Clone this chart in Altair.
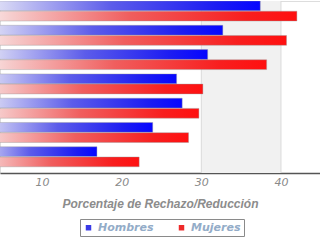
import altair as alt
import pandas as pd

categories = ["Grupo 1", "Grupo 2", "Grupo 3", "Grupo 4", "Grupo 5", "Grupo 6", "Grupo 7"]
hombres = [37.4, 32.7, 30.8, 26.9, 27.6, 23.9, 16.9]
mujeres = [42.0, 40.7, 38.2, 30.2, 29.7, 28.4, 22.2]
series = ["Hombres", "Mujeres"]
tick_values = [10, 20, 30, 40]
grid_values = [30, 40]

rows = []
for c, h, m in zip(categories, hombres, mujeres):
    rows.append({"cat": c, "serie": "Hombres", "valor": h})
    rows.append({"cat": c, "serie": "Mujeres", "valor": m})
df = pd.DataFrame(rows)

W, H = 320, 172

xscale = alt.Scale(domain=[4.73, 44.9], nice=False, zero=False)
yscale = alt.Scale(domain=categories, paddingInner=0.177, paddingOuter=0.128, align=0)
yoff = alt.YOffset("serie:N", scale=alt.Scale(domain=series, paddingInner=0.04))

xaxis = alt.Axis(
    values=tick_values, ticks=False, grid=False,
    domainColor="#555555", domainWidth=1.6,
    labelFont="DejaVu Sans", labelFontStyle="italic", labelFontSize=11,
    labelColor="#8a8a8a", labelPadding=3,
    title="Porcentaje de Rechazo/Reducción", titleFont="Liberation Sans",
    titleFontStyle="italic", titleFontWeight="bold", titleFontSize=12,
    titleColor="#8c8c8c", titlePadding=11,
)

base = alt.Chart(df)

band = alt.Chart(pd.DataFrame({"a": [1]})).mark_rect(color="#f1f1f1").encode(
    x=alt.datum(30, scale=xscale, axis=xaxis),
    x2=alt.datum(40),
    y=alt.value(0),
    y2=alt.value(H),
)

grid = alt.Chart(pd.DataFrame({"g": grid_values})).mark_rule(color="#dadada", strokeWidth=1).encode(
    x=alt.X("g:Q", scale=xscale, axis=xaxis),
)

blue_grad = alt.Gradient(
    gradient="linear", x1=0, x2=1, y1=0, y2=0,
    stops=[
        alt.GradientStop(offset=0, color="#ffffff"),
        alt.GradientStop(offset=0.15, color="#d2d2f4"),
        alt.GradientStop(offset=0.5, color="#5c5cea"),
        alt.GradientStop(offset=0.85, color="#1c1cf2"),
        alt.GradientStop(offset=1, color="#0606ff"),
    ],
)
red_grad = alt.Gradient(
    gradient="linear", x1=0, x2=1, y1=0, y2=0,
    stops=[
        alt.GradientStop(offset=0, color="#ffffff"),
        alt.GradientStop(offset=0.15, color="#f6cccc"),
        alt.GradientStop(offset=0.5, color="#f05e5e"),
        alt.GradientStop(offset=0.85, color="#f81e1e"),
        alt.GradientStop(offset=1, color="#ff1010"),
    ],
)

def bars(name, grad):
    return base.transform_filter(alt.datum.serie == name).mark_bar(
        fill=grad, clip=True, stroke="#9a9a9a", strokeWidth=0.4
    ).encode(
        x=alt.X("valor:Q", scale=xscale, axis=xaxis),
        x2=alt.datum(0),
        y=alt.Y("cat:N", scale=yscale, axis=None),
        yOffset=yoff,
    )

legend_layer = base.mark_square(clip=True, size=30, opacity=1).encode(
    x=alt.datum(0, scale=xscale),
    y=alt.Y("cat:N", scale=yscale, axis=None),
    color=alt.Color(
        "serie:N",
        scale=alt.Scale(domain=series, range=["#3a3ae6", "#ee2a2a"]),
        legend=alt.Legend(
            title=None, orient="none", legendX=80, legendY=218,
            direction="horizontal", symbolType="square", symbolSize=30,
            labelFont="DejaVu Sans", labelFontStyle="italic", labelFontWeight="bold",
            labelFontSize=11, labelColor="#93acc8", columnPadding=22,
            strokeColor="#8a8a8a", fillColor="#ffffff", padding=3, labelOffset=4,
        ),
    ),
)

chart = alt.layer(
    band, grid, bars("Hombres", blue_grad), bars("Mujeres", red_grad), legend_layer
).properties(
    width=W, height=H, autosize=alt.AutoSizeParams(type="pad"), padding=0,
).configure_view(stroke=None).configure(background="#ffffff")

chart.save("out.html", embed_options={"renderer": "svg", "actions": False})
